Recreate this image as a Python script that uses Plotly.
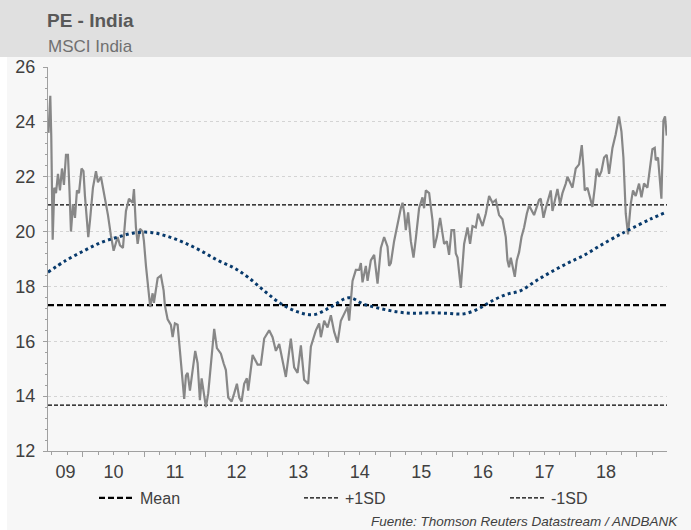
import plotly.graph_objects as go

# ---------------- data ----------------
pe_years = [2009.445, 2009.474, 2009.490, 2009.513, 2009.539, 2009.567, 2009.599, 2009.631, 2009.664, 2009.696,
            2009.729, 2009.761, 2009.786, 2009.810, 2009.843, 2009.875, 2009.907, 2009.940, 2009.981, 2010.013,
            2010.037, 2010.091, 2010.119, 2010.167, 2010.216, 2010.248, 2010.297, 2010.346, 2010.411, 2010.459,
            2010.503, 2010.568, 2010.606, 2010.654, 2010.703, 2010.752, 2010.812, 2010.833, 2010.865, 2010.893,
            2010.930, 2010.974, 2010.995, 2011.028, 2011.055, 2011.097, 2011.136, 2011.157, 2011.218, 2011.271,
            2011.315, 2011.336, 2011.380, 2011.433, 2011.461, 2011.498, 2011.542, 2011.563, 2011.596, 2011.649,
            2011.677, 2011.705, 2011.742, 2011.786, 2011.828, 2011.867, 2011.904, 2011.932, 2011.974, 2012.002,
            2012.039, 2012.094, 2012.136, 2012.180, 2012.245, 2012.289, 2012.326, 2012.364, 2012.419, 2012.461,
            2012.505, 2012.542, 2012.581, 2012.623, 2012.667, 2012.688, 2012.760, 2012.841, 2012.894, 2012.948,
            2013.029, 2013.084, 2013.138, 2013.192, 2013.247, 2013.300, 2013.381, 2013.435, 2013.490, 2013.544,
            2013.597, 2013.662, 2013.706, 2013.787, 2013.841, 2013.869, 2013.922, 2013.977, 2014.031, 2014.084,
            2014.140, 2014.193, 2014.247, 2014.302, 2014.328, 2014.383, 2014.437, 2014.490, 2014.518, 2014.545,
            2014.599, 2014.627, 2014.680, 2014.734, 2014.789, 2014.843, 2014.896, 2014.951, 2014.977, 2015.005,
            2015.058, 2015.114, 2015.167, 2015.195, 2015.221, 2015.248, 2015.286, 2015.330, 2015.373, 2015.411,
            2015.464, 2015.519, 2015.545, 2015.573, 2015.627, 2015.682, 2015.708, 2015.752, 2015.805, 2015.870,
            2015.914, 2015.951, 2015.990, 2016.032, 2016.060, 2016.088, 2016.141, 2016.195, 2016.250, 2016.292,
            2016.331, 2016.385, 2016.422, 2016.494, 2016.547, 2016.601, 2016.656, 2016.709, 2016.763, 2016.818,
            2016.872, 2016.899, 2016.925, 2016.953, 2017.018, 2017.050, 2017.088, 2017.127, 2017.169, 2017.213,
            2017.250, 2017.331, 2017.375, 2017.412, 2017.440, 2017.484, 2017.521, 2017.575, 2017.602, 2017.630,
            2017.683, 2017.711, 2017.753, 2017.792, 2017.846, 2017.873, 2017.955, 2018.008, 2018.062, 2018.106,
            2018.133, 2018.154, 2018.198, 2018.240, 2018.279, 2018.317, 2018.349, 2018.386, 2018.425, 2018.468,
            2018.511, 2018.549, 2018.604, 2018.657, 2018.711, 2018.750, 2018.782, 2018.820, 2018.857, 2018.901,
            2018.938, 2018.982, 2019.036, 2019.075, 2019.117, 2019.172, 2019.198, 2019.253, 2019.291, 2019.307,
            2019.344, 2019.399, 2019.432, 2019.458, 2019.485]
pe_values = [23.6, 24.95, 23.5, 19.7, 21.6, 21.4, 22.1, 21.5, 22.3, 21.7,
             22.8, 22.8, 21.5, 20.0, 21.0, 20.5, 21.5, 21.4, 22.3, 22.2,
             21.3, 19.8, 20.4, 21.6, 22.2, 21.8, 22.0, 21.4, 20.6, 19.85,
             19.3, 19.8, 19.5, 19.4, 20.75, 21.2, 21.05, 21.55, 20.15, 19.55,
             20.1, 20.0, 19.65, 18.75, 18.2, 17.25, 17.75, 17.4, 18.3, 18.4,
             17.85, 17.3, 16.8, 16.6, 16.15, 16.65, 16.6, 16.0, 15.3, 13.9,
             14.75, 14.85, 14.2, 14.85, 15.65, 15.2, 13.85, 14.65, 14.05, 13.6,
             14.1, 15.3, 16.45, 15.75, 15.55, 15.2, 14.95, 13.95, 13.8, 14.1,
             14.45, 13.95, 13.8, 14.45, 14.65, 14.2, 15.5, 15.15, 15.15, 16.1,
             16.4, 16.15, 15.65, 15.9, 15.3, 14.7, 16.1, 15.05, 14.85, 15.85,
             14.6, 14.45, 15.8, 16.4, 16.65, 16.15, 16.75, 16.5, 16.95, 16.35,
             15.95, 16.75, 17.0, 17.25, 16.75, 18.2, 18.6, 18.6, 18.85, 18.15,
             18.75, 18.2, 18.95, 19.15, 18.1, 19.4, 19.8, 19.45, 18.75, 18.85,
             19.65, 20.3, 20.85, 21.05, 20.7, 20.05, 20.7, 19.65, 19.05, 19.75,
             20.85, 21.25, 20.85, 21.5, 21.4, 20.4, 19.4, 19.8, 20.5, 19.55,
             19.65, 19.15, 20.05, 20.05, 19.2, 19.05, 17.95, 19.55, 20.15, 19.55,
             20.2, 20.15, 20.65, 20.2, 20.65, 21.3, 21.05, 21.15, 20.6, 20.45,
             19.8, 18.95, 18.7, 19.05, 18.35, 18.95, 19.25, 19.8, 20.15, 20.65,
             20.95, 20.6, 20.95, 21.15, 21.2, 20.5, 20.85, 21.25, 21.5, 20.75,
             21.25, 21.55, 21.0, 21.4, 21.75, 22.0, 21.6, 22.3, 22.45, 23.15,
             22.35, 21.5, 21.6, 21.25, 20.9, 21.6, 22.3, 22.0, 22.2, 22.7,
             22.8, 22.1, 23.05, 23.55, 24.2, 23.65, 22.7, 20.65, 19.9, 21.0,
             21.5, 21.3, 21.75, 21.25, 21.75, 21.6, 22.05, 23.0, 23.05, 22.6,
             22.7, 21.2, 24.05, 24.2, 23.5]

ma_years = [2009.437, 2009.729, 2010.021, 2010.297, 2010.573, 2010.833, 2011.109, 2011.385, 2011.644, 2011.920,
            2012.196, 2012.456, 2012.683, 2012.943, 2013.219, 2013.495, 2013.755, 2014.031, 2014.323, 2014.567,
            2014.843, 2015.119, 2015.378, 2015.654, 2015.930, 2016.190, 2016.433, 2016.628, 2016.872, 2017.116,
            2017.359, 2017.602, 2017.878, 2018.138, 2018.414, 2018.690, 2018.852, 2019.225, 2019.468]
ma_values = [18.52, 18.95, 19.3, 19.6, 19.8, 19.95, 19.97, 19.82, 19.6, 19.3,
             18.95, 18.68, 18.34, 17.85, 17.37, 17.07, 16.97, 17.25, 17.59, 17.35,
             17.19, 17.07, 17.02, 17.04, 17.02, 17.0, 17.19, 17.45, 17.7, 17.85,
             18.2, 18.52, 18.85, 19.13, 19.5, 19.85, 20.04, 20.46, 20.7]

mean_pe = 17.32
sd_pe = 3.65

x_range = [2009.437, 2019.49]
year_ticks = list(range(2010, 2020))
label_pos = [2009.72, 2010.5, 2011.5, 2012.5, 2013.5, 2014.5, 2015.5, 2016.5, 2017.5, 2018.5]
label_text = ["09", "10", "11", "12", "13", "14", "15", "16", "17", "18"]
y_ticks = [12, 14, 16, 18, 20, 22, 24, 26]

FONT = "Liberation Sans, Arial, sans-serif"
W, H = 691, 530
ML, MR, MT, MB = 48, 24, 67, 79
PW, PH = W - ML - MR, H - MT - MB


def px_to_paper_x(px):
    return (px - ML) / PW


def px_to_paper_y(py):
    return (H - MB - py) / PH


fig = go.Figure()

# reference lines
fig.add_trace(go.Scatter(x=x_range, y=[mean_pe, mean_pe], mode="lines", name="Mean",
                         line=dict(color="#000000", width=2.2, dash="6px,3px"), legend="legend",
                         hoverinfo="skip"))
fig.add_trace(go.Scatter(x=x_range, y=[mean_pe + sd_pe] * 2, mode="lines", name="+1SD",
                         line=dict(color="#000000", width=1.2, dash="4px,2px"), legend="legend2",
                         hoverinfo="skip"))
fig.add_trace(go.Scatter(x=x_range, y=[mean_pe - sd_pe] * 2, mode="lines", name="-1SD",
                         line=dict(color="#000000", width=1.2, dash="4px,2px"), legend="legend3",
                         hoverinfo="skip"))

# PE series
fig.add_trace(go.Scatter(x=pe_years, y=pe_values, mode="lines", name="PE",
                         line=dict(color="#878787", width=2.2), showlegend=False))
# moving average
fig.add_trace(go.Scatter(x=ma_years, y=ma_values, mode="lines", name="Media",
                         line=dict(color="#083a6c", width=3, dash="3px,3.2px", shape="spline"),
                         showlegend=False))
# carrier for the label axis
fig.add_trace(go.Scatter(x=[], y=[], xaxis="x2", showlegend=False, hoverinfo="skip"))

legend_common = dict(xref="container", yref="container", xanchor="left", yanchor="middle",
                     orientation="h", bgcolor="rgba(0,0,0,0)", borderwidth=0, itemwidth=36,
                     font=dict(family=FONT, size=16, color="#404040"))

fig.update_layout(
    width=W, height=H,
    margin=dict(l=ML, r=MR, t=MT, b=MB, pad=0, autoexpand=False),
    paper_bgcolor="#f7f7f7",
    plot_bgcolor="#f7f7f7",
    title=dict(text="<b>PE - India</b>", x=47 / W, xanchor="left", xref="container",
               y=1 - 20 / H, yanchor="middle", yref="container",
               font=dict(family=FONT, size=19, color="#595959")),
    xaxis=dict(range=x_range, tickmode="array", tickvals=year_ticks, ticktext=[""] * len(year_ticks),
               ticks="outside", ticklen=5, tickwidth=1, tickcolor="#a0a0a0",
               showline=True, linecolor="#a0a0a0", linewidth=1, showgrid=False, zeroline=False,
               minor=dict(tick0=2009, dtick=0.25, ticks="outside", ticklen=3, tickcolor="#a0a0a0",
                          showgrid=False)),
    xaxis2=dict(range=x_range, overlaying="x", anchor="y", side="bottom", tickmode="array",
                tickvals=label_pos, ticktext=label_text, ticks="", showline=False, showgrid=False,
                zeroline=False, ticklabelstandoff=8,
                tickfont=dict(family=FONT, size=18, color="#404040")),
    yaxis=dict(range=[12, 26], tickmode="array", tickvals=y_ticks,
               ticks="outside", ticklen=4, tickcolor="#a0a0a0",
               showline=True, linecolor="#a0a0a0", linewidth=1,
               showgrid=True, gridcolor="#d4d4d4", griddash="dot", gridwidth=1, zeroline=False,
               ticklabelstandoff=4,
               tickfont=dict(family=FONT, size=18, color="#404040"),
               minor=dict(dtick=0.4, tick0=12, ticks="outside", ticklen=2, tickcolor="#a0a0a0",
                          showgrid=False)),
    legend=dict(x=94 / W, y=1 - 498 / H, **legend_common),
    legend2=dict(x=299 / W, y=1 - 498 / H, **legend_common),
    legend3=dict(x=505 / W, y=1 - 498 / H, **legend_common),
    shapes=[
        dict(type="rect", xref="paper", yref="paper", layer="below",
             x0=px_to_paper_x(0), x1=px_to_paper_x(W), y0=px_to_paper_y(57), y1=px_to_paper_y(0),
             fillcolor="#e0e0e0", line=dict(width=0)),
        dict(type="rect", xref="paper", yref="paper", layer="below",
             x0=px_to_paper_x(0), x1=px_to_paper_x(7), y0=px_to_paper_y(H), y1=px_to_paper_y(57),
             fillcolor="#ffffff", line=dict(width=0)),
    ],
    annotations=[
        dict(text="MSCI India", xref="paper", yref="paper", x=px_to_paper_x(46), y=px_to_paper_y(46),
             xanchor="left", yanchor="middle", showarrow=False,
             font=dict(family=FONT, size=17, color="#707070")),
        dict(text="<i>Fuente: Thomson Reuters Datastream / ANDBANK</i>", xref="paper", yref="paper",
             x=px_to_paper_x(680), y=px_to_paper_y(521), xanchor="right", yanchor="middle", showarrow=False,
             font=dict(family=FONT, size=13.5, color="#404040")),
    ],
    showlegend=True,
)

fig.write_html("out.html", config={"displayModeBar": False},
               post_script="document.body.style.margin='0';")
